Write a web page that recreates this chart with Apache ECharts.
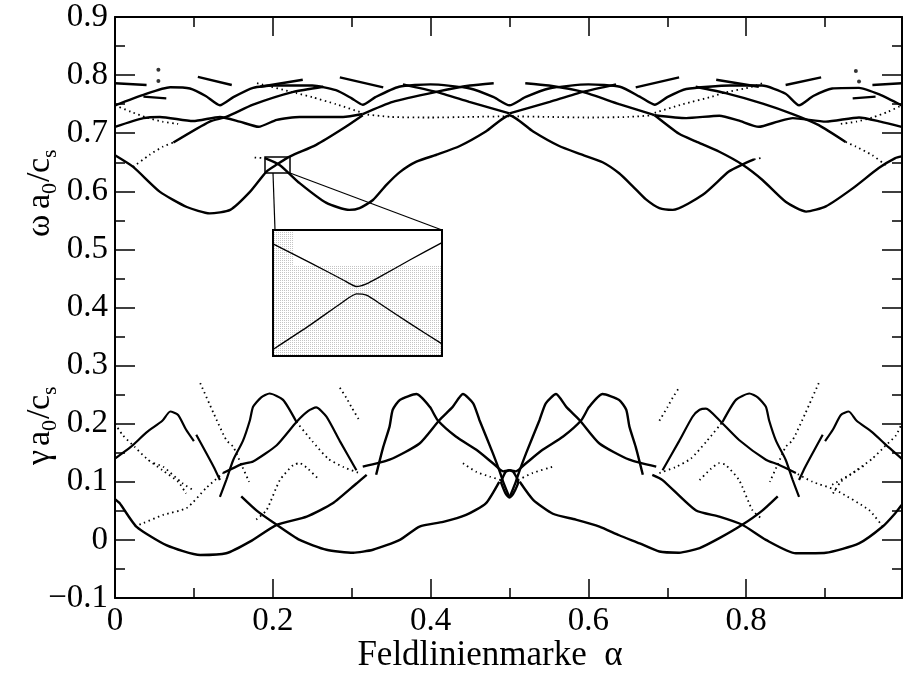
<!DOCTYPE html>
<html>
<head>
<meta charset="utf-8">
<script src="https://cdn.jsdelivr.net/npm/echarts@6/dist/echarts.min.js"></script>
<style>
  html, body { margin: 0; padding: 0; background: #fff; }
  #chart { width: 903px; height: 692px; }
</style>
</head>
<body>
<div id="chart"></div>
<script>
/* ========== 数据：频率 ω (上带) ========== */
const wVNotch = [[0,0.748],[0.036,0.766],[0.07,0.779],[0.095,0.777],[0.115,0.764],[0.133,0.748],[0.15,0.762],[0.175,0.778],[0.2,0.782],[0.25,0.782],[0.28,0.774],[0.3,0.76],[0.314,0.749],[0.33,0.762],[0.36,0.78],[0.4,0.784],[0.45,0.777],[0.48,0.762],[0.5,0.748],[0.52,0.762],[0.55,0.777],[0.6,0.784],[0.64,0.78],[0.665,0.763],[0.684,0.749],[0.7,0.762],[0.724,0.776],[0.78,0.782],[0.82,0.782],[0.85,0.768],[0.867,0.748],[0.885,0.764],[0.909,0.777],[0.943,0.778],[0.97,0.766],[0.997,0.748]];
const wWaveL = [[0,0.711],[0.036,0.726],[0.057,0.728],[0.099,0.721],[0.133,0.728],[0.158,0.72],[0.182,0.711],[0.205,0.723],[0.234,0.728],[0.289,0.728],[0.314,0.733]];
const wWaveMid = [[0.314,0.733],[0.35,0.728],[0.4,0.727],[0.45,0.728],[0.5,0.729],[0.55,0.728],[0.6,0.727],[0.65,0.728],[0.684,0.731]];
const wWaveR = [[0.684,0.731],[0.724,0.726],[0.766,0.73],[0.79,0.722],[0.816,0.711],[0.84,0.72],[0.859,0.726],[0.901,0.72],[0.943,0.727],[0.97,0.72],[0.997,0.711]];
const wEdgeL = [[0,0.748],[0.02,0.737],[0.04,0.727],[0.06,0.72],[0.08,0.716]];
const wEdgeR = [[0.92,0.716],[0.94,0.72],[0.96,0.727],[0.98,0.737],[0.997,0.748]];
const wDiagR1 = [[0.314,0.733],[0.352,0.754],[0.407,0.771],[0.45,0.782],[0.48,0.786]];
const wDiagL1 = [[0.365,0.784],[0.407,0.771],[0.449,0.754],[0.5,0.734]];
const wDiagR2 = [[0.5,0.734],[0.551,0.754],[0.593,0.771],[0.635,0.784]];
const wDiagL2 = [[0.52,0.786],[0.55,0.782],[0.593,0.771],[0.639,0.75],[0.684,0.731]];
const wLongL = [[0.074,0.684],[0.12,0.72],[0.141,0.728],[0.175,0.749],[0.226,0.771],[0.264,0.78]];
const wLongLDots = [[0.023,0.642],[0.044,0.663],[0.061,0.677],[0.074,0.684]];
const wLongR = [[0.736,0.78],[0.774,0.769],[0.821,0.751],[0.859,0.733],[0.892,0.714],[0.926,0.685]];
const wLongRDots = [[0.926,0.685],[0.939,0.677],[0.96,0.662],[0.977,0.645]];
const wDotL = [[0.18,0.786],[0.23,0.769],[0.25,0.762],[0.28,0.75],[0.314,0.735]];
const wDotR = [[0.684,0.735],[0.72,0.75],[0.757,0.763],[0.77,0.769],[0.808,0.78],[0.82,0.786]];
const wTopDashes = [
  [[0.105,0.797],[0.148,0.783]], [[0.285,0.796],[0.34,0.779]], [[0.184,0.78],[0.238,0.792]],
  [[0.85,0.783],[0.895,0.796]], [[0.66,0.779],[0.715,0.796]], [[0.762,0.792],[0.816,0.78]],
  [[0,0.786],[0.04,0.783]], [[0.036,0.763],[0.065,0.76]],
  [[0.96,0.783],[0.997,0.786]], [[0.935,0.76],[0.964,0.763]]
];
const wDots = [[0.055,0.809],[0.055,0.79],[0.939,0.807],[0.943,0.789]];

/* ========== 数据：频率 ω (下带) ========== */
const wLowA = [[0,0.662],[0.023,0.642],[0.057,0.599],[0.091,0.573],[0.12,0.562],[0.146,0.568],[0.171,0.599],[0.192,0.634],[0.205,0.646],[0.222,0.66],[0.255,0.68],[0.289,0.708],[0.314,0.731]];
const wLowA2 = [[0.684,0.731],[0.715,0.699],[0.736,0.686],[0.766,0.668],[0.795,0.646],[0.821,0.619],[0.85,0.582],[0.876,0.565],[0.901,0.574],[0.935,0.605],[0.968,0.64],[0.989,0.657],[0.997,0.66]];
const wLowB = [[0.19,0.657],[0.209,0.645],[0.234,0.614],[0.268,0.58],[0.297,0.568],[0.31,0.571],[0.327,0.585],[0.344,0.611],[0.361,0.633],[0.382,0.651],[0.41,0.664],[0.437,0.678],[0.47,0.703],[0.5,0.731],[0.53,0.703],[0.563,0.678],[0.59,0.664],[0.618,0.65],[0.639,0.631],[0.656,0.609],[0.673,0.586],[0.69,0.571],[0.707,0.568],[0.745,0.594],[0.778,0.634],[0.795,0.646],[0.81,0.655]];
const wLowBDots = [[[0.177,0.658],[0.19,0.657]], [[0.81,0.655],[0.821,0.658]]];

/* ========== 数据：增长率 γ ========== */
const gArc1 = [[0,0.07],[0.006,0.063],[0.027,0.023],[0.065,-0.009],[0.108,-0.026],[0.141,-0.023],[0.171,-0.003],[0.205,0.026],[0.243,0.04],[0.276,0.063],[0.306,0.097],[0.319,0.112]];
const gArc2 = [[0.16,0.075],[0.18,0.05],[0.205,0.026],[0.234,0],[0.268,-0.017],[0.302,-0.022],[0.327,-0.017],[0.361,0],[0.386,0.023],[0.416,0.031],[0.445,0.043],[0.47,0.063],[0.487,0.1]];
const gArc3 = [[0.513,0.1],[0.53,0.069],[0.555,0.045],[0.584,0.035],[0.614,0.023],[0.639,0.008],[0.665,-0.006],[0.69,-0.02],[0.715,-0.022],[0.741,-0.014],[0.766,0.003],[0.795,0.026],[0.82,0.05],[0.84,0.075]];
const gArc4 = [[0.681,0.112],[0.694,0.103],[0.736,0.051],[0.766,0.04],[0.795,0.026],[0.825,0],[0.863,-0.023],[0.901,-0.022],[0.943,-0.006],[0.973,0.023],[0.989,0.046],[0.997,0.06]];
const gHump38 = [[0.331,0.112],[0.34,0.16],[0.348,0.195],[0.352,0.224],[0.361,0.241],[0.382,0.251],[0.399,0.229],[0.409,0.206],[0.432,0.178],[0.458,0.155],[0.479,0.132],[0.492,0.118],[0.5,0.12]];
const gHump62 = [[0.5,0.12],[0.508,0.118],[0.521,0.132],[0.542,0.155],[0.568,0.178],[0.591,0.206],[0.601,0.229],[0.618,0.251],[0.639,0.241],[0.648,0.224],[0.652,0.195],[0.66,0.16],[0.669,0.112]];
const gHump44 = [[0.314,0.126],[0.348,0.138],[0.386,0.166],[0.411,0.206],[0.428,0.229],[0.441,0.251],[0.454,0.235],[0.462,0.206],[0.479,0.149],[0.487,0.12],[0.492,0.1],[0.5,0.073]];
const gHump56 = [[0.5,0.073],[0.508,0.1],[0.513,0.12],[0.521,0.149],[0.538,0.206],[0.546,0.235],[0.559,0.251],[0.572,0.229],[0.589,0.206],[0.614,0.166],[0.652,0.138],[0.686,0.126]];
const gLens = [[0.489,0.1],[0.495,0.117],[0.5,0.12],[0.505,0.117],[0.511,0.1],[0.505,0.08],[0.5,0.073],[0.495,0.08],[0.489,0.1]];
const gLensL = [[0.441,0.132],[0.458,0.117],[0.475,0.109],[0.489,0.103]];
const gLensR = [[0.511,0.103],[0.529,0.115],[0.555,0.126]];

const gLeftSolid = [
  [[0.133,0.074],[0.141,0.103],[0.15,0.138],[0.162,0.17],[0.171,0.206],[0.175,0.229],[0.185,0.245],[0.196,0.252],[0.213,0.241],[0.23,0.203]],
  [[0.137,0.115],[0.16,0.13],[0.175,0.135],[0.205,0.163],[0.23,0.203],[0.245,0.222],[0.255,0.228],[0.268,0.212],[0.285,0.17],[0.306,0.12]],
  [[0,0.14],[0.02,0.16],[0.04,0.185],[0.06,0.205],[0.07,0.221],[0.08,0.215],[0.09,0.19],[0.1,0.17]],
  [[0.103,0.181],[0.125,0.126],[0.133,0.103]]
];
const gLeftDotted = [
  [[0.23,0.203],[0.25,0.17],[0.27,0.14],[0.29,0.125],[0.31,0.115]],
  [[0.108,0.27],[0.125,0.218],[0.141,0.172],[0.15,0.16],[0.16,0.13],[0.17,0.1]],
  [[0.285,0.262],[0.293,0.245],[0.3,0.228],[0.31,0.205]],
  [[0,0.2],[0.01,0.18],[0.025,0.16],[0.04,0.14],[0.06,0.12],[0.08,0.1],[0.09,0.08]],
  [[0.025,0.023],[0.036,0.029],[0.061,0.043],[0.091,0.055],[0.116,0.09],[0.137,0.115]],
  [[0.049,0.132],[0.061,0.126],[0.086,0.097],[0.1,0.085]],
  [[0.179,0.035],[0.192,0.051],[0.209,0.103],[0.226,0.129],[0.234,0.132],[0.245,0.122],[0.259,0.103]]
];
const gRightSolid = [
  [[0.77,0.203],[0.787,0.241],[0.804,0.252],[0.815,0.245],[0.825,0.229],[0.829,0.206],[0.838,0.17],[0.85,0.138],[0.859,0.103],[0.867,0.074]],
  [[0.694,0.12],[0.715,0.17],[0.732,0.212],[0.741,0.224],[0.749,0.226],[0.766,0.206],[0.791,0.172],[0.825,0.138],[0.84,0.13],[0.863,0.115]],
  [[0.9,0.17],[0.91,0.19],[0.92,0.215],[0.93,0.221],[0.94,0.205],[0.96,0.185],[0.98,0.16],[0.997,0.14]],
  [[0.897,0.181],[0.875,0.126],[0.867,0.103]]
];
const gRightDotted = [
  [[0.69,0.115],[0.71,0.125],[0.73,0.14],[0.75,0.17],[0.77,0.203]],
  [[0.892,0.27],[0.875,0.218],[0.859,0.172],[0.85,0.16],[0.84,0.13],[0.83,0.1]],
  [[0.69,0.205],[0.7,0.228],[0.707,0.245],[0.715,0.262]],
  [[0.91,0.08],[0.92,0.1],[0.94,0.12],[0.96,0.14],[0.975,0.16],[0.99,0.18],[0.997,0.2]],
  [[0.973,0.023],[0.956,0.051],[0.913,0.086],[0.884,0.1],[0.863,0.115]],
  [[0.909,0.095],[0.935,0.115],[0.951,0.129]],
  [[0.741,0.103],[0.755,0.122],[0.766,0.132],[0.774,0.129],[0.791,0.103],[0.808,0.051],[0.821,0.035]]
];

/* ========== 数据：放大插图 ========== */
const insetUpper = [[0.19,0.6568],[0.197,0.6525],[0.2033,0.6485],[0.2058,0.647],[0.2077,0.6476],[0.2102,0.6492],[0.2159,0.6531],[0.222,0.6571]];
const insetLower = [[0.19,0.6325],[0.197,0.6381],[0.2033,0.6435],[0.2058,0.6453],[0.2077,0.645],[0.2102,0.6431],[0.2159,0.6385],[0.222,0.6338]];

const FONT = "'Liberation Serif', 'Times New Roman', serif";

function solid(data, w) {
    return { type: "line", data, showSymbol: false, smooth: 0.2, silent: true,
        lineStyle: { color: "#000", width: w || 2.4 } };
}
function dotted(data) {
    return { type: "line", data, showSymbol: false, smooth: 0.2, silent: true,
        lineStyle: { color: "#000", width: 1.8, type: [1.5, 3.5] } };
}

const series = [];
[wVNotch, wWaveL, wWaveR, wDiagR1, wDiagL1, wDiagR2, wDiagL2, wLongL, wLongR,
 wLowA, wLowA2, wLowB, gArc1, gArc2, gArc3, gArc4, gHump38, gHump62, gHump44, gHump56, gLens]
    .forEach(d => series.push(solid(d)));
wTopDashes.forEach(d => series.push(solid(d)));
gLeftSolid.concat(gRightSolid).forEach(d => series.push(solid(d, 2.2)));
[wWaveMid, wEdgeL, wEdgeR, wLongLDots, wLongRDots, wDotL, wDotR, gLensL, gLensR]
    .forEach(d => series.push(dotted(d)));
wLowBDots.concat(gLeftDotted, gRightDotted).forEach(d => series.push(dotted(d)));
series.push({ type: "scatter", data: wDots, symbolSize: 4, silent: true, itemStyle: { color: "#000" } });
series.push({ type: "line", data: insetUpper, xAxisIndex: 2, yAxisIndex: 2, showSymbol: false, smooth: 0.2, z: 5,
    lineStyle: { color: "#000", width: 1.3 } });
series.push({ type: "line", data: insetLower, xAxisIndex: 2, yAxisIndex: 2, showSymbol: false, smooth: 0.2, z: 5,
    lineStyle: { color: "#000", width: 1.3 } });

// 点状底纹
const pat = document.createElement("canvas");
pat.width = 2; pat.height = 2;
const pc = pat.getContext("2d");
pc.fillStyle = "#fff"; pc.fillRect(0, 0, 2, 2);
pc.fillStyle = "#c4c4c4"; pc.fillRect(0, 0, 1, 1);

const tickLine = { color: "#000", width: 1.5 };
function xAx(pos, labels) {
    return {
        type: "value", gridIndex: 0, position: pos, min: 0, max: 0.9975, interval: 0.2,
        axisLine: { show: true, onZero: false, lineStyle: { color: "#000", width: 2 } },
        axisTick: { show: true, inside: true, length: 19, lineStyle: tickLine },
        minorTick: { show: true, splitNumber: 2, length: 10, lineStyle: tickLine },
        splitLine: { show: false },
        axisLabel: { show: labels, color: "#000", fontFamily: FONT, fontSize: 33, margin: 7, showMaxLabel: false }
    };
}
function yAx(pos, labels) {
    return {
        type: "value", gridIndex: 0, position: pos, min: -0.1, max: 0.9, interval: 0.1,
        axisLine: { show: true, onZero: false, lineStyle: { color: "#000", width: 2 } },
        axisTick: { show: true, inside: true, length: 20, lineStyle: tickLine },
        minorTick: { show: true, splitNumber: 2, length: 10, lineStyle: tickLine },
        splitLine: { show: false },
        axisLabel: { show: labels, color: "#000", fontFamily: FONT, fontSize: 33, margin: 7,
            formatter: v => (v < 0 ? "\u2212" + Math.abs(v) : String(v)) }
    };
}

function rotLabel(y, first, firstW) {
    const big = { fontFamily: FONT, fontSize: 34, fill: "#000", align: "left", verticalAlign: "middle" };
    const sub = { fontFamily: FONT, fontSize: 22, fill: "#000", align: "left", verticalAlign: "middle" };
    const x0 = firstW;
    return {
        type: "group", x: 40, y: y, rotation: Math.PI / 2,
        children: [
            { type: "text", x: 0, y: 0, style: Object.assign({ text: first }, big) },
            { type: "text", x: x0, y: 0, style: Object.assign({ text: "a" }, big) },
            { type: "text", x: x0 + 15, y: 10, style: Object.assign({ text: "0" }, sub) },
            { type: "text", x: x0 + 27, y: 0, style: Object.assign({ text: "/" }, big) },
            { type: "text", x: x0 + 36, y: 0, style: Object.assign({ text: "c" }, big) },
            { type: "text", x: x0 + 51, y: 10, style: Object.assign({ text: "s" }, sub) }
        ]
    };
}

const chart = echarts.init(document.getElementById("chart"), null, { renderer: "canvas" });
chart.setOption({
    animation: false,
    backgroundColor: "#fff",
    grid: [
        { left: 115, top: 17, width: 787, height: 581, containLabel: false },
        { left: 273, top: 230, width: 169, height: 126, containLabel: false }
    ],
    xAxis: [xAx("bottom", true), xAx("top", false),
        { type: "value", gridIndex: 1, min: 0.19, max: 0.222, show: false }],
    yAxis: [yAx("left", true), yAx("right", false),
        { type: "value", gridIndex: 1, min: 0.631, max: 0.66, show: false }],
    series,
    graphic: [
        { type: "rect", z: 1, shape: { x: 273, y: 230, width: 169, height: 126 },
          style: { fill: { image: pat, repeat: "repeat" } } },
        { type: "rect", z: 1, shape: { x: 293, y: 231, width: 148, height: 34 }, style: { fill: "#fff" } },
        { type: "rect", z: 10, shape: { x: 273, y: 230, width: 169, height: 126 },
          style: { fill: "none", stroke: "#000", lineWidth: 2 } },
        { type: "rect", z: 10, shape: { x: 265, y: 157, width: 25, height: 16 },
          style: { fill: "none", stroke: "#000", lineWidth: 1.5 } },
        { type: "line", z: 10, shape: { x1: 273, y1: 173, x2: 275, y2: 230 }, style: { stroke: "#000", lineWidth: 1.2 } },
        { type: "line", z: 10, shape: { x1: 290, y1: 173, x2: 442, y2: 230 }, style: { stroke: "#000", lineWidth: 1.2 } },
        rotLabel(237, "\u03C9", 28),
        rotLabel(465, "\u03B3", 19),
        { type: "text", x: 490, y: 656,
          style: { text: "Feldlinienmarke  \u03B1", fontFamily: FONT, fontSize: 35, fill: "#000",
                   align: "center", verticalAlign: "middle" } }
    ]
});
</script>
</body>
</html>
